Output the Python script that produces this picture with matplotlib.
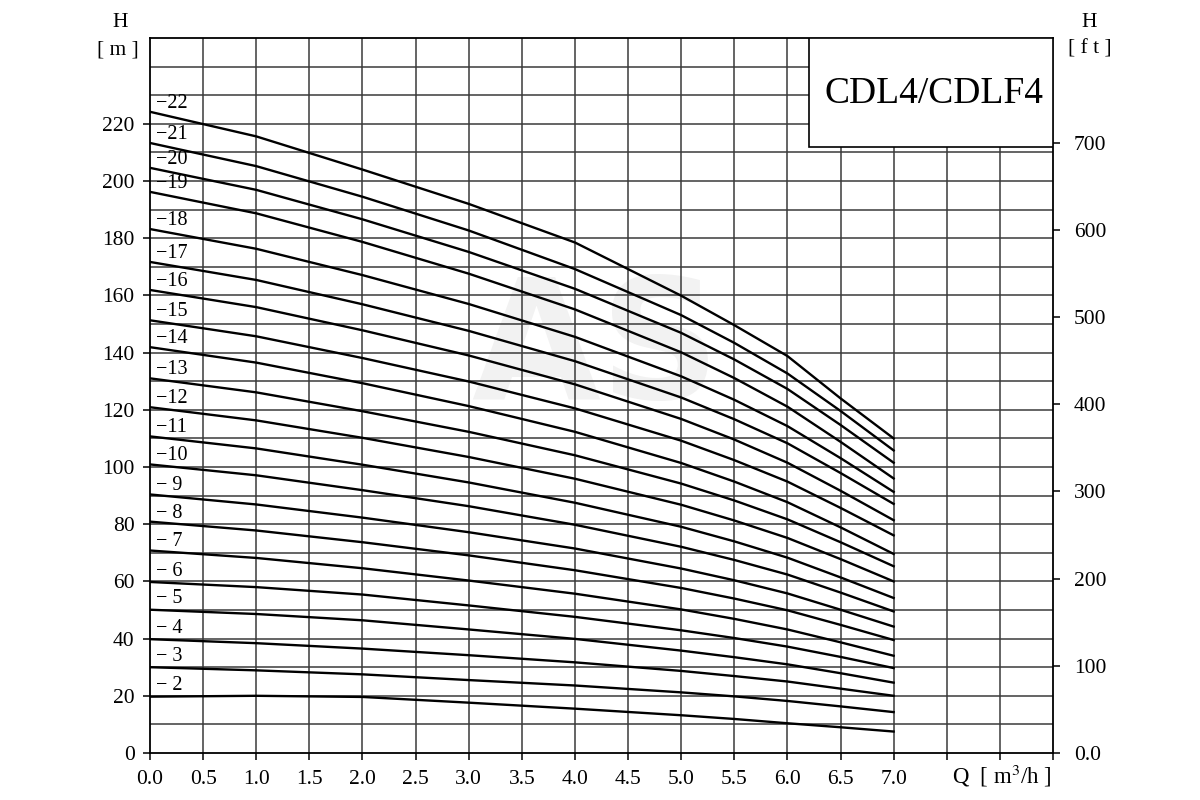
import numpy as np
import matplotlib
matplotlib.use("Agg")
import matplotlib.pyplot as plt
from matplotlib.patches import Rectangle

plt.rcParams['font.family'] = ['Liberation Serif', 'DejaVu Serif']

# flow points (m3/h)
q = [0.0, 1.0, 2.0, 3.0, 4.0, 5.0, 5.5, 6.0, 6.5, 7.0]

# head curves (m), one per stage count
head = {
    2:  [19.7, 20.0, 19.6, 17.6, 15.5, 13.2, 11.9, 10.4, 9.0, 7.5],
    3:  [30.0, 28.9, 27.5, 25.5, 23.6, 21.2, 19.8, 18.2, 16.3, 14.3],
    4:  [39.8, 38.4, 36.5, 34.2, 31.7, 28.7, 26.9, 25.0, 22.5, 20.0],
    5:  [50.1, 48.6, 46.4, 43.2, 39.9, 35.8, 33.5, 31.0, 27.9, 24.6],
    6:  [59.8, 58.0, 55.4, 51.6, 47.6, 42.9, 40.2, 37.2, 33.6, 29.7],
    7:  [70.8, 68.2, 64.6, 60.3, 55.7, 50.2, 46.9, 43.2, 38.7, 34.0],
    8:  [80.9, 77.8, 73.7, 69.1, 63.9, 57.7, 54.0, 49.9, 44.8, 39.5],
    9:  [90.4, 86.9, 82.3, 77.2, 71.5, 64.5, 60.4, 55.8, 50.1, 44.2],
    10: [100.9, 97.1, 91.9, 86.3, 79.8, 72.1, 67.5, 62.4, 56.1, 49.5],
    11: [110.7, 106.5, 100.8, 94.6, 87.5, 79.1, 74.0, 68.3, 61.4, 54.2],
    12: [120.9, 116.3, 110.2, 103.5, 95.9, 86.8, 81.3, 75.2, 67.8, 60.0],
    13: [131.0, 126.1, 119.5, 112.3, 104.1, 94.2, 88.3, 81.7, 73.7, 65.3],
    14: [141.9, 136.5, 129.3, 121.3, 112.3, 101.4, 94.9, 87.7, 78.9, 69.6],
    15: [151.3, 145.7, 138.1, 129.9, 120.5, 109.2, 102.4, 94.9, 85.7, 76.1],
    16: [161.9, 155.9, 147.8, 139.0, 128.9, 116.8, 109.6, 101.5, 91.7, 81.4],
    17: [171.7, 165.4, 156.9, 147.6, 137.0, 124.3, 116.7, 108.3, 97.9, 87.1],
    18: [183.2, 176.3, 167.1, 157.0, 145.5, 131.7, 123.5, 114.3, 103.1, 91.3],
    19: [196.2, 188.7, 178.7, 167.6, 155.1, 140.1, 131.1, 121.1, 108.8, 96.0],
    20: [204.6, 196.9, 186.6, 175.2, 162.3, 146.9, 137.6, 127.3, 114.7, 101.5],
    21: [213.3, 205.2, 194.5, 182.7, 169.2, 153.1, 143.4, 132.7, 119.6, 105.8],
    22: [224.2, 215.6, 204.0, 192.0, 178.5, 159.9, 149.6, 138.8, 124.0, 110.0],
}

x_labels = ['0.0', '0.5', '1.0', '1.5', '2.0', '2.5', '3.0', '3.5',
            '4.0', '4.5', '5.0', '5.5', '6.0', '6.5', '7.0', '', '', '']
ft_ticks = [0, 100, 200, 300, 400, 500, 600, 700]
m_ticks = [0, 20, 40, 60, 80, 100, 120, 140, 160, 180, 200, 220]

fig = plt.figure(figsize=(12, 8), dpi=100)
ax = fig.add_axes([0.125, 0.05875, 0.7525, 0.89375])

ax.set_xlim(0, 8.5)
ax.set_ylim(0, 250)

# grid
for gx in np.arange(0.5, 8.5, 0.5):
    ax.axvline(gx, color='#3a3a3a', lw=1.1, zorder=1)
for gy in np.arange(10, 250, 10):
    ax.axhline(gy, color='#3a3a3a', lw=1.1, zorder=1)

# watermark
ax.text(4.2, 140, 'AS', fontsize=120, color='#f2f2f2', fontweight='bold',
        ha='center', va='center', family='DejaVu Sans', zorder=0)

for n, h in head.items():
    ax.plot(q, h, color='black', lw=1.7, zorder=3, solid_joinstyle='round')
    lab = '−%d' % n if n >= 10 else '− %d' % n
    dy = 3.0 if n >= 7 else 3.8
    ax.text(0.06, h[0] + dy, lab, fontsize=14.5, ha='left', va='center', zorder=4)

ax.set_xticks(np.arange(0, 8.51, 0.5))
ax.set_xticklabels(x_labels)
ax.set_yticks(m_ticks)
ax.tick_params(axis='both', direction='out', length=5, width=1.1,
               labelsize=15.5, colors='black')
ax.tick_params(axis='x', pad=7)
ax.tick_params(axis='y', pad=6)
for sp in ax.spines.values():
    sp.set_linewidth(1.3)
    sp.set_color('black')

# title box
ax.add_patch(Rectangle((6.2, 212), 2.3, 38, facecolor='white', edgecolor='black',
                       lw=1.2, zorder=5))
ax.text(7.38, 230.5, 'CDL4/CDLF4', fontsize=27, ha='center', va='center', zorder=6)

# feet axis
ax2 = ax.twinx()
ax2.set_ylim(0, 250 / 0.3048)
ax2.set_yticks(ft_ticks)
ax2.set_yticklabels(['0.0'] + [str(t) for t in ft_ticks[1:]])
ax2.tick_params(axis='y', direction='out', length=5, width=1.1, labelsize=15.5, pad=10)
for sp in ax2.spines.values():
    sp.set_visible(False)

fig.text(0.1, 0.972, 'H', fontsize=15.5, ha='center', va='center')
fig.text(0.098, 0.937, '[ m ]', fontsize=15.5, ha='center', va='center')
fig.text(0.908, 0.972, 'H', fontsize=15.5, ha='center', va='center')
fig.text(0.908, 0.939, '[ f t ]', fontsize=15.5, ha='center', va='center')
fig.text(0.835, 0.030, 'Q  [ m$^3$/h ]', fontsize=16.5, ha='center', va='center',
         math_fontfamily='stix')

fig.savefig('out.png', dpi=100)
